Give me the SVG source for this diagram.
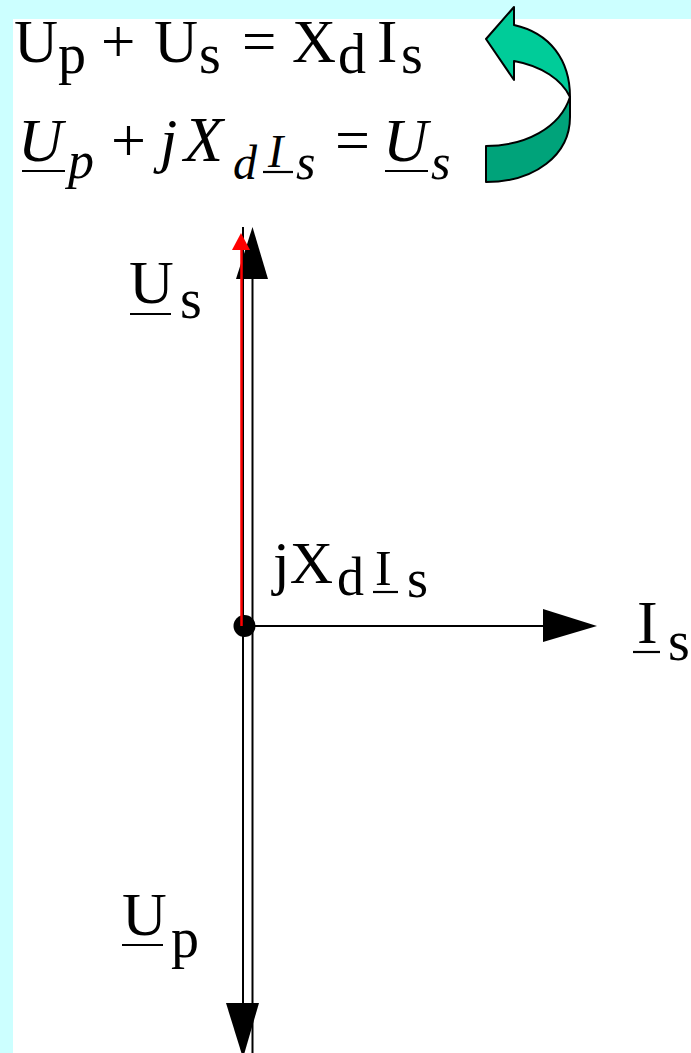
<svg xmlns="http://www.w3.org/2000/svg" width="691" height="1053" viewBox="0 0 691 1053">
<style>
.t{font-family:"Liberation Serif","Times New Roman",serif;fill:#000}
.i{font-family:"Liberation Serif","Times New Roman",serif;font-style:italic;fill:#000}
.ln{stroke:#000;stroke-width:2;fill:none}
.ul{stroke:#000;stroke-width:2.2}
.ah{fill:#000}
</style>
<rect x="0" y="0" width="691" height="1053" fill="#FFFFFF"/>
<rect x="0" y="0" width="691" height="19" fill="#CCFFFF"/>
<rect x="0" y="0" width="13" height="1053" fill="#CCFFFF"/>

<g id="formula1">
<text class="t" font-size="61"><tspan x="14" y="62">U</tspan><tspan x="58" y="73" font-size="56">p</tspan><tspan x="101" y="62">+</tspan><tspan x="154" y="62">U</tspan><tspan x="199" y="73" font-size="56">s</tspan><tspan x="242" y="62">=</tspan><tspan x="292" y="62">X</tspan><tspan x="338" y="73" font-size="56">d</tspan><tspan x="377" y="62">I</tspan><tspan x="401" y="73" font-size="56">s</tspan></text>
</g>

<g id="formula2">
<text class="i" font-size="62"><tspan x="18" y="161">U</tspan><tspan x="68" y="178" font-size="52">p</tspan><tspan x="111" y="161" font-style="normal">+</tspan><tspan x="160" y="161">j</tspan><tspan x="184" y="161" font-size="64">X</tspan><tspan x="233" y="179" font-size="48">d</tspan><tspan x="268" y="167" font-size="46">I</tspan><tspan x="296" y="179" font-size="50">s</tspan><tspan x="335" y="161" font-style="normal">=</tspan><tspan x="383" y="161">U</tspan><tspan x="431" y="179" font-size="50">s</tspan></text>
<line class="ul" x1="22" y1="171" x2="65" y2="171"/>
<line class="ul" x1="263" y1="172" x2="293" y2="172"/>
<line class="ul" x1="385" y1="171" x2="428" y2="171"/>
</g>

<g id="curved-arrow" stroke="#000" stroke-width="2" stroke-linejoin="round">
<path d="M570,97 L570,117 C570,155 535,182 486,182 L486,146 C525,146 560,128 570,97 Z" fill="#00A37A"/>
<path d="M514,25 C550,33 570,60 570,97 C562,80 542,66 514,61 L514,80 L486,39 L514,7 Z" fill="#00CC99"/>
</g>

<g id="connectors">
<line class="ln" x1="243" y1="227" x2="243" y2="1053"/>
<line class="ln" x1="252.5" y1="240" x2="252.5" y2="1053"/>
<polygon class="ah" points="252.5,227 236,279 268,279"/>
<polygon class="ah" points="243,1058 226,1003 259,1003"/>
<line class="ln" x1="244" y1="626" x2="548" y2="626"/>
<polygon class="ah" points="597,626 543,609 543,642"/>
<circle cx="244.5" cy="626" r="11" fill="#000"/>
<line x1="241.5" y1="626" x2="241.5" y2="246" stroke="#FF0000" stroke-width="2.5"/>
<polygon points="241,233 232,250 250,250" fill="#FF0000"/>
</g>

<g id="label-Us">
<text class="t" font-size="62"><tspan x="129" y="303">U</tspan><tspan x="180" y="318" font-size="56">s</tspan></text>
<line class="ul" x1="130" y1="314" x2="171" y2="314"/>
</g>

<g id="label-jXdIs">
<text class="t" font-size="60"><tspan x="273" y="583">jX</tspan><tspan x="337" y="595" font-size="54">d</tspan><tspan x="375" y="585" font-size="50">I</tspan><tspan x="407" y="597" font-size="54">s</tspan></text>
<line class="ul" x1="373" y1="592" x2="398" y2="592"/>
</g>

<g id="label-Is">
<text class="t" font-size="62"><tspan x="637" y="643">I</tspan><tspan x="668" y="660" font-size="56">s</tspan></text>
<line class="ul" x1="633" y1="652" x2="660" y2="652"/>
</g>

<g id="label-Up">
<text class="t" font-size="62"><tspan x="122" y="935">U</tspan><tspan x="171" y="957" font-size="56">p</tspan></text>
<line class="ul" x1="122" y1="945" x2="163" y2="945"/>
</g>
</svg>
